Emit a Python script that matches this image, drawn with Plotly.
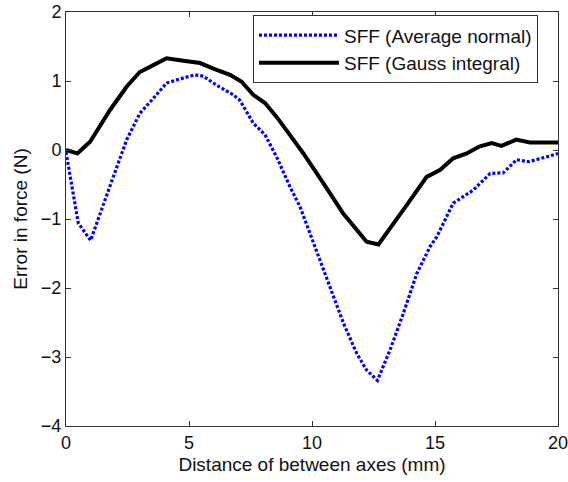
import plotly.graph_objects as go

x_gauss = [0, 0.46, 0.98, 1.38, 1.79, 2.47, 3.0, 3.55, 4.09, 4.63, 5.45, 5.99, 6.67, 7.14, 7.61,
           8.09, 8.56, 9.1, 9.65, 10.46, 11.27, 12.22, 12.7, 13.85, 14.66, 15.2, 15.74, 16.29,
           16.8, 17.3, 17.7, 18.3, 18.86, 20.0]
y_gauss = [0, -0.05, 0.12, 0.34, 0.58, 0.92, 1.13, 1.23, 1.33, 1.30, 1.26, 1.18, 1.09, 0.99, 0.80,
           0.68, 0.48, 0.22, -0.05, -0.48, -0.92, -1.33, -1.37, -0.80, -0.39, -0.29, -0.12, -0.05,
           0.05, 0.10, 0.06, 0.15, 0.11, 0.11]

x_avg = [0, 0.5, 1.0, 1.38, 1.92, 2.47, 3.0, 3.55, 4.09, 4.63, 5.24, 5.58, 6.12, 6.8, 7.07, 7.61,
         8.09, 8.56, 9.1, 9.51, 10.0, 10.46, 10.73, 11.28, 11.82, 12.22, 12.66, 13.17, 13.71,
         14.26, 14.8, 15.07, 15.74, 16.56, 17.24, 17.78, 18.32, 18.8, 19.54, 20.0]
y_avg = [-0.03, -1.06, -1.31, -0.92, -0.39, 0.15, 0.53, 0.75, 0.97, 1.03, 1.09, 1.07, 0.94, 0.80,
         0.72, 0.39, 0.22, -0.10, -0.53, -0.82, -1.28, -1.74, -1.98, -2.51, -2.95, -3.19, -3.34,
         -2.90, -2.37, -1.79, -1.40, -1.26, -0.77, -0.58, -0.34, -0.33, -0.14, -0.17, -0.10, -0.05]

x_ticks = [0, 5, 10, 15, 20]
y_ticks = [-4, -3, -2, -1, 0, 1, 2]

font = "Liberation Sans, Arial, sans-serif"
txt = "#111111"

fig = go.Figure()
fig.add_trace(go.Scatter(x=x_avg, y=y_avg, mode="lines", name="SFF (Average normal)",
                         line=dict(color="#0000ff", width=3.2, dash="3px,2px")))
fig.add_trace(go.Scatter(x=x_gauss, y=y_gauss, mode="lines", name="SFF (Gauss integral)",
                         line=dict(color="#000000", width=4)))

axis_common = dict(showgrid=False, zeroline=False, showline=True, linecolor="#333333",
                   linewidth=1, mirror="ticks", ticks="inside", ticklen=5, tickcolor="#333333",
                   automargin=False, ticklabeloverflow="allow",
                   tickfont=dict(family=font, size=18, color=txt))
fig.update_xaxes(range=[0, 20], tickvals=x_ticks,
                 title=dict(text="Distance of between axes (mm)",
                            font=dict(family=font, size=19, color=txt), standoff=6),
                 **axis_common)
fig.update_yaxes(range=[-4, 2], tickvals=y_ticks,
                 title=dict(text="Error in force (N)",
                            font=dict(family=font, size=19, color=txt), standoff=8),
                 **axis_common)

fig.update_layout(
    width=568, height=482,
    margin=dict(l=66, r=10, t=12, b=56),
    plot_bgcolor="white", paper_bgcolor="white",
    font=dict(family=font, size=19, color=txt),
    legend=dict(x=0.38, y=0.992, xanchor="left", yanchor="top",
                bgcolor="white", bordercolor="#333333", borderwidth=1,
                font=dict(family=font, size=19, color=txt),
                itemwidth=80, tracegroupgap=0),
    showlegend=True,
)

fig.write_html("out.html")
